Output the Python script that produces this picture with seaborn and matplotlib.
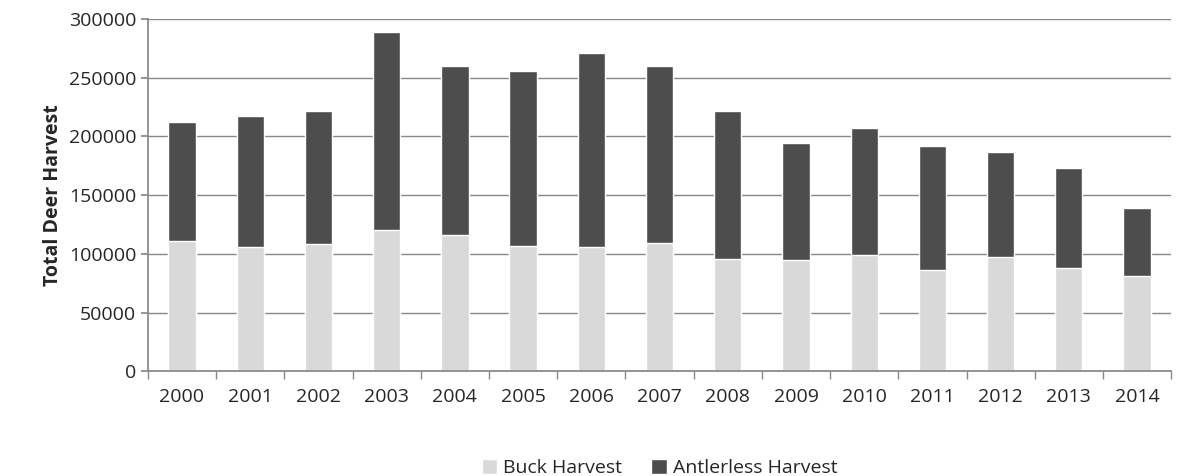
import matplotlib
matplotlib.use("Agg")
import matplotlib.pyplot as plt
import seaborn as sns
import pandas as pd

years = [str(y) for y in range(2000, 2015)]
total = [212000, 217000, 222000, 289000, 260000, 256000, 271000, 260000,
         222000, 194000, 207000, 192000, 187000, 173000, 139000]
buck = [111000, 106000, 108000, 120000, 116000, 107000, 106000, 109000,
        96000, 95000, 99000, 86000, 97000, 88000, 81000]

sns.set_theme(style="white")
plt.rcParams['font.family'] = ['Open Sans', 'DejaVu Sans']

fig, ax = plt.subplots(figsize=(11.83, 4.76), dpi=100)
df = pd.DataFrame({"year": years, "buck": buck, "total": total})
sns.barplot(data=df, x="year", y="total", color="#4d4d4d", width=0.4,
            ax=ax, label="Antlerless Harvest", saturation=1, zorder=2)
sns.barplot(data=df, x="year", y="buck", color="#d9d9d9", width=0.4,
            ax=ax, label="Buck Harvest", saturation=1, zorder=2)

ax.set_ylim(0, 300000)
ax.set_xlim(-0.5, 14.5)
ax.set_yticks(range(0, 300001, 50000))
ax.yaxis.grid(True, color="#878787", linewidth=1)
ax.set_axisbelow(True)
ax.set_ylabel("Total Deer Harvest", fontsize=14, fontweight="bold")
ax.set_xlabel("")
ax.tick_params(axis='both', labelsize=14)
for s in ["top", "right"]:
    ax.spines[s].set_visible(False)
ax.spines["left"].set_color("#888888")
ax.spines["bottom"].set_color("#888888")
ax.set_xticks([i - 0.5 for i in range(16)], minor=True)
ax.tick_params(axis='x', which='major', length=0, pad=12)
ax.tick_params(axis='x', which='minor', length=6, color="#888888", bottom=True)
ax.tick_params(axis='y', length=5, color="#888888", left=True)

h, l = ax.get_legend_handles_labels()
ax.legend(h[::-1], l[::-1], loc="upper center", bbox_to_anchor=(0.5, -0.2),
          ncol=2, frameon=False, fontsize=14, handlelength=0.8,
          handleheight=0.8, columnspacing=1.5, handletextpad=0.3)
fig.subplots_adjust(left=0.125, right=0.99, top=0.96, bottom=0.22)
fig.savefig("out.png")
